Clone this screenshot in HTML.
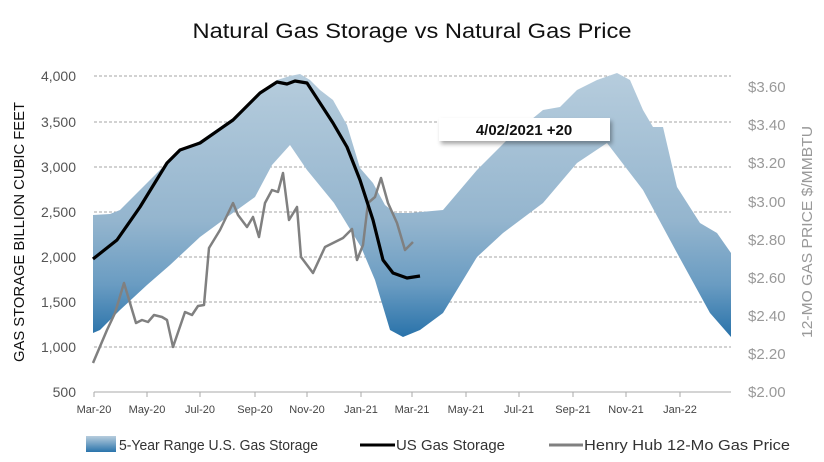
<!DOCTYPE html>
<html><head><meta charset="utf-8"><style>
body{margin:0;background:#fff;}
svg{display:block;font-family:"Liberation Sans",sans-serif;}
</style></head><body>
<svg width="824" height="462" viewBox="0 0 824 462">
<defs>
<linearGradient id="g" gradientUnits="userSpaceOnUse" x1="0" y1="70" x2="0" y2="345">
<stop offset="0" stop-color="#b7cddd"/>
<stop offset="0.55" stop-color="#94b5ce"/>
<stop offset="0.78" stop-color="#6a9cc2"/>
<stop offset="1" stop-color="#1f6ca6"/>
</linearGradient>
<linearGradient id="lg" x1="0" y1="0" x2="0" y2="1"><stop offset="0" stop-color="#b7cddd"/><stop offset="1" stop-color="#2a74ab"/></linearGradient>
<filter id="sh" x="-10%" y="-20%" width="130%" height="160%"><feDropShadow dx="2" dy="3" stdDeviation="2" flood-color="#000" flood-opacity="0.35"/></filter>
</defs>
<text x="412" y="38" text-anchor="middle" font-size="21" fill="#111" textLength="439" lengthAdjust="spacingAndGlyphs">Natural Gas Storage vs Natural Gas Price</text>
<g stroke="#888" stroke-dasharray="3,2" stroke-width="0.8">
<line x1="94" y1="76" x2="731" y2="76"/><line x1="94" y1="122" x2="731" y2="122"/><line x1="94" y1="167" x2="731" y2="167"/><line x1="94" y1="212" x2="731" y2="212"/><line x1="94" y1="257" x2="731" y2="257"/><line x1="94" y1="302" x2="731" y2="302"/><line x1="94" y1="347" x2="731" y2="347"/>
</g>
<path fill="url(#g)" d="M93,215 L110,214 L120,210 L140,190 L167,163 L180,150 L200,141 L233,118 L260,92 L277,80 L290,76 L300,74 L310,80 L320,90 L333,100 L347,125 L360,168 L373,183 L385,205 L395,213 L410,213 L443,210 L477,170 L510,137 L543,110 L560,107 L577,90 L597,80 L617,73 L630,80 L643,110 L653,127 L663,127 L677,187 L700,223 L717,233 L731,253 L731,337 L710,313 L677,253 L643,190 L607,143 L577,163 L543,203 L503,233 L477,257 L443,313 L420,330 L403,337 L390,330 L375,280 L361,247 L334,203 L307,170 L290,145 L272,165 L255,197 L230,215 L200,237 L170,265 L147,285 L120,310 L100,330 L93,333 Z"/>
<line x1="94" y1="392" x2="731" y2="392" stroke="#aaa" stroke-width="1"/>
<g stroke="#aaa"><line x1="94" y1="392" x2="94" y2="397"/><line x1="147" y1="392" x2="147" y2="397"/><line x1="200" y1="392" x2="200" y2="397"/><line x1="255" y1="392" x2="255" y2="397"/><line x1="307" y1="392" x2="307" y2="397"/><line x1="361" y1="392" x2="361" y2="397"/><line x1="412" y1="392" x2="412" y2="397"/><line x1="466" y1="392" x2="466" y2="397"/><line x1="519" y1="392" x2="519" y2="397"/><line x1="573" y1="392" x2="573" y2="397"/><line x1="626" y1="392" x2="626" y2="397"/><line x1="680" y1="392" x2="680" y2="397"/></g>
<polyline fill="none" stroke="#808080" stroke-width="2.5" stroke-linejoin="round" points="93,363 107,330 115,313 124,283 136,323 142,320 148,322 154,315 162,317 167,320 173,347 185,312 192,315 198,306 204,305 209,248 220,230 233,203 238,215 247,227 253,217 259,237 265,203 272,190 278,192 283,173 289,220 297,207 301,257 313,273 325,247 343,238 352,229 357,260 363,245 368,203 375,197 381,178 388,203 397,223 405,250 413,242"/>
<polyline fill="none" stroke="#000" stroke-width="3.2" stroke-linejoin="round" points="93,259 117,240 140,207 167,163 180,150 200,143 233,120 260,93 277,82 287,84 295,81 307,83 320,103 333,123 347,147 360,180 373,220 383,260 393,273 407,278 420,276"/>
<rect x="439" y="118" width="171" height="23" fill="#fff" filter="url(#sh)"/>
<text x="524" y="135" text-anchor="middle" font-size="15" font-weight="bold" fill="#111">4/02/2021  +20</text>
<g font-size="14" fill="#555" text-anchor="end">
<text x="76" y="81">4,000</text><text x="76" y="127">3,500</text><text x="76" y="172">3,000</text><text x="76" y="217">2,500</text><text x="76" y="262">2,000</text><text x="76" y="307">1,500</text><text x="76" y="352">1,000</text><text x="76" y="397">500</text>
</g>
<g font-size="15" fill="#999" text-anchor="start">
<text x="748" y="92">$3.60</text><text x="748" y="130">$3.40</text><text x="748" y="168">$3.20</text><text x="748" y="207">$3.00</text><text x="748" y="245">$2.80</text><text x="748" y="283">$2.60</text><text x="748" y="321">$2.40</text><text x="748" y="359">$2.20</text><text x="748" y="397">$2.00</text>
</g>
<g font-size="11" fill="#444" text-anchor="middle">
<text x="94" y="413">Mar-20</text><text x="147" y="413">May-20</text><text x="200" y="413">Jul-20</text><text x="255" y="413">Sep-20</text><text x="307" y="413">Nov-20</text><text x="361" y="413">Jan-21</text><text x="412" y="413">Mar-21</text><text x="466" y="413">May-21</text><text x="519" y="413">Jul-21</text><text x="573" y="413">Sep-21</text><text x="626" y="413">Nov-21</text><text x="680" y="413">Jan-22</text>
</g>
<text transform="translate(24,232) rotate(-90)" text-anchor="middle" font-size="15" fill="#111" textLength="260" lengthAdjust="spacingAndGlyphs">GAS STORAGE BILLION CUBIC FEET</text>
<text transform="translate(812,232) rotate(-90)" text-anchor="middle" font-size="15" fill="#999" textLength="212" lengthAdjust="spacingAndGlyphs">12-MO GAS PRICE $/MMBTU</text>
<rect x="86" y="436" width="30" height="16" fill="url(#lg)"/>
<text x="119" y="450" font-size="15" fill="#333" textLength="199" lengthAdjust="spacingAndGlyphs">5-Year Range U.S. Gas Storage</text>
<line x1="360" y1="445" x2="395" y2="445" stroke="#000" stroke-width="3"/>
<text x="396" y="450" font-size="15" fill="#333" textLength="109" lengthAdjust="spacingAndGlyphs">US Gas Storage</text>
<line x1="549" y1="445" x2="583" y2="445" stroke="#808080" stroke-width="3"/>
<text x="584" y="450" font-size="15" fill="#333" textLength="206" lengthAdjust="spacingAndGlyphs">Henry Hub 12-Mo Gas Price</text>
</svg>
</body></html>
